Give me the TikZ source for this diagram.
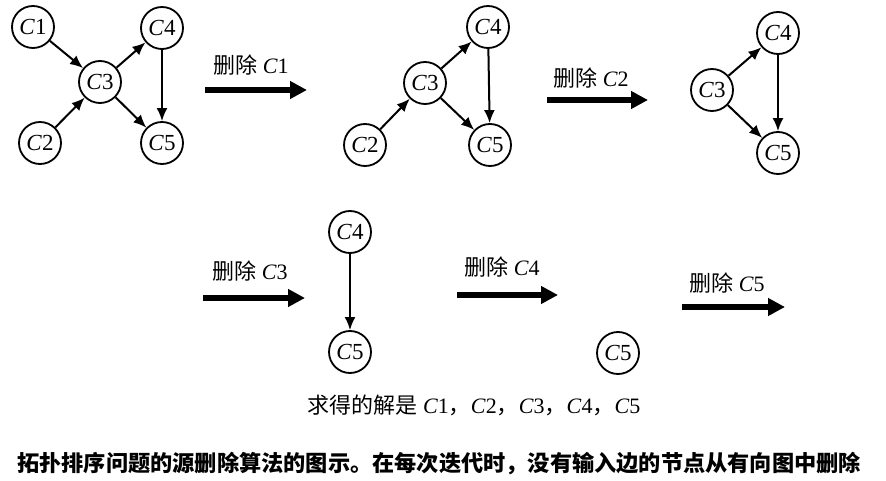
\documentclass[tikz,border=0pt]{standalone}
\usepackage{fontspec}
\setmainfont{Liberation Serif}
\newfontfamily\cjk{Noto Sans CJK SC}
\usetikzlibrary{arrows.meta}
\newcommand{\cn}[1]{\textit{C}#1}
\tikzset{
  vert/.style={draw, circle, line width=1.8pt, minimum size=42pt, inner sep=0pt, font=\fontsize{23}{23}\selectfont},
  edge/.style={-{Latex[length=13pt, width=11pt]}, line width=2pt},
  bigarrow/.style={-{Triangle[length=17pt, width=17pt]}, line width=6.5pt},
  steplabel/.style={font=\fontsize{22}{22}\selectfont}
}
\begin{document}
\begin{tikzpicture}[x=1pt, y=-1pt]
  \useasboundingbox (0,0) rectangle (886,481);

  \node[vert] (a1) at (33,27) {\cn1};
  \node[vert] (a2) at (40,143) {\cn2};
  \node[vert] (a3) at (100,82) {\cn3};
  \node[vert] (a4) at (162,28) {\cn4};
  \node[vert] (a5) at (162,143) {\cn5};
  \draw[edge] (a1)--(a3);
  \draw[edge] (a2)--(a3);
  \draw[edge] (a3)--(a4);
  \draw[edge] (a3)--(a5);
  \draw[edge] (a4)--(a5);

  \coordinate (s1) at (205,90);
  \coordinate (t1) at (307,90);
  \draw[bigarrow] (s1)--(t1);
  \node[steplabel] (l1) at (251,65) {{\cjk 删除} \cn1};

  \node[vert] (b2) at (365,145) {\cn2};
  \node[vert] (b3) at (425,83) {\cn3};
  \node[vert] (b4) at (488,27) {\cn4};
  \node[vert] (b5) at (490,145) {\cn5};
  \draw[edge] (b2)--(b3);
  \draw[edge] (b3)--(b4);
  \draw[edge] (b3)--(b5);
  \draw[edge] (b4)--(b5);

  \coordinate (s2) at (547,100);
  \coordinate (t2) at (648,100);
  \draw[bigarrow] (s2)--(t2);
  \node[steplabel] (l2) at (591,78) {{\cjk 删除} \cn2};

  \node[vert] (c3) at (712,90) {\cn3};
  \node[vert] (c4) at (778,33) {\cn4};
  \node[vert] (c5) at (778,153) {\cn5};
  \draw[edge] (c3)--(c4);
  \draw[edge] (c3)--(c5);
  \draw[edge] (c4)--(c5);

  \coordinate (s3) at (203,298);
  \coordinate (t3) at (305,298);
  \draw[bigarrow] (s3)--(t3);
  \node[steplabel] (l3) at (250,271) {{\cjk 删除} \cn3};

  \node[vert] (d4) at (350,232) {\cn4};
  \node[vert] (d5) at (350,352) {\cn5};
  \draw[edge] (d4)--(d5);

  \coordinate (s4) at (457,295);
  \coordinate (t4) at (558,295);
  \draw[bigarrow] (s4)--(t4);
  \node[steplabel] (l4) at (502,267) {{\cjk 删除} \cn4};

  \node[vert] (e5) at (618,353) {\cn5};

  \coordinate (s5) at (682,307);
  \coordinate (t5) at (785,307);
  \draw[bigarrow] (s5)--(t5);
  \node[steplabel] (l5) at (727,283) {{\cjk 删除} \cn5};

  \node[font=\fontsize{22}{22}\selectfont] (sol) at (474,405)
    {{\cjk 求得的解是} \cn1{\cjk ，}\cn2{\cjk ，}\cn3{\cjk ，}\cn4{\cjk ，}\cn5};
  \node[font=\cjk\bfseries\fontsize{22.2}{22.2}\selectfont] (cap) at (439,464)
    {拓扑排序问题的源删除算法的图示。在每次迭代时，没有输入边的节点从有向图中删除};
\end{tikzpicture}
\end{document}
